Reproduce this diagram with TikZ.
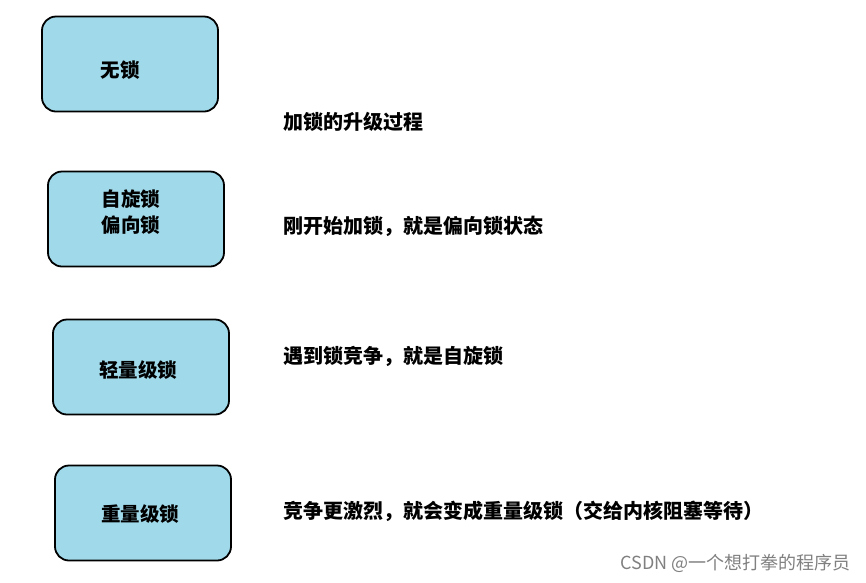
\documentclass[tikz,border=0pt]{standalone}
\usepackage{fontspec}
\newfontfamily\cjk{Noto Sans CJK SC}
\definecolor{lockblue}{RGB}{160,218,234}
\tikzset{
  lockbox/.style={draw=black, line width=1.8pt, fill=lockblue, rounded corners=14pt,
    minimum width=176pt, minimum height=95pt},
  boxtext/.style={align=center, font=\cjk\bfseries\fontsize{19.5}{26}\selectfont},
  note/.style={anchor=west, font=\cjk\bfseries\fontsize{20}{22}\selectfont}
}
\begin{document}
\begin{tikzpicture}[x=1pt,y=-1pt]
  \useasboundingbox (0,0) rectangle (866,582);
  \node[lockbox] (nolock) at (130,64) {};
  \node[boxtext] at (120,70) {无锁};
  \node[lockbox] (biased) at (136,219) {};
  \node[boxtext] at (131,212) {自旋锁\\偏向锁};
  \node[lockbox] (light) at (141,367) {};
  \node[boxtext] at (138,370) {轻量级锁};
  \node[lockbox] (heavy) at (143,513) {};
  \node[boxtext] at (140,514) {重量级锁};
  \node[note] (title) at (280,122) {加锁的升级过程};
  \node[note] (n1) at (280,226) {刚开始加锁，就是偏向锁状态};
  \node[note] (n2) at (280,356) {遇到锁竞争，就是自旋锁};
  \node[note] (n3) at (280,511) {竞争更激烈，就会变成重量级锁（交给内核阻塞等待）};
  \node[anchor=east, text=gray, font=\cjk\fontsize{18}{20}\selectfont] (mark) at (854,563) {CSDN @一个想打拳的程序员};
\end{tikzpicture}
\end{document}
